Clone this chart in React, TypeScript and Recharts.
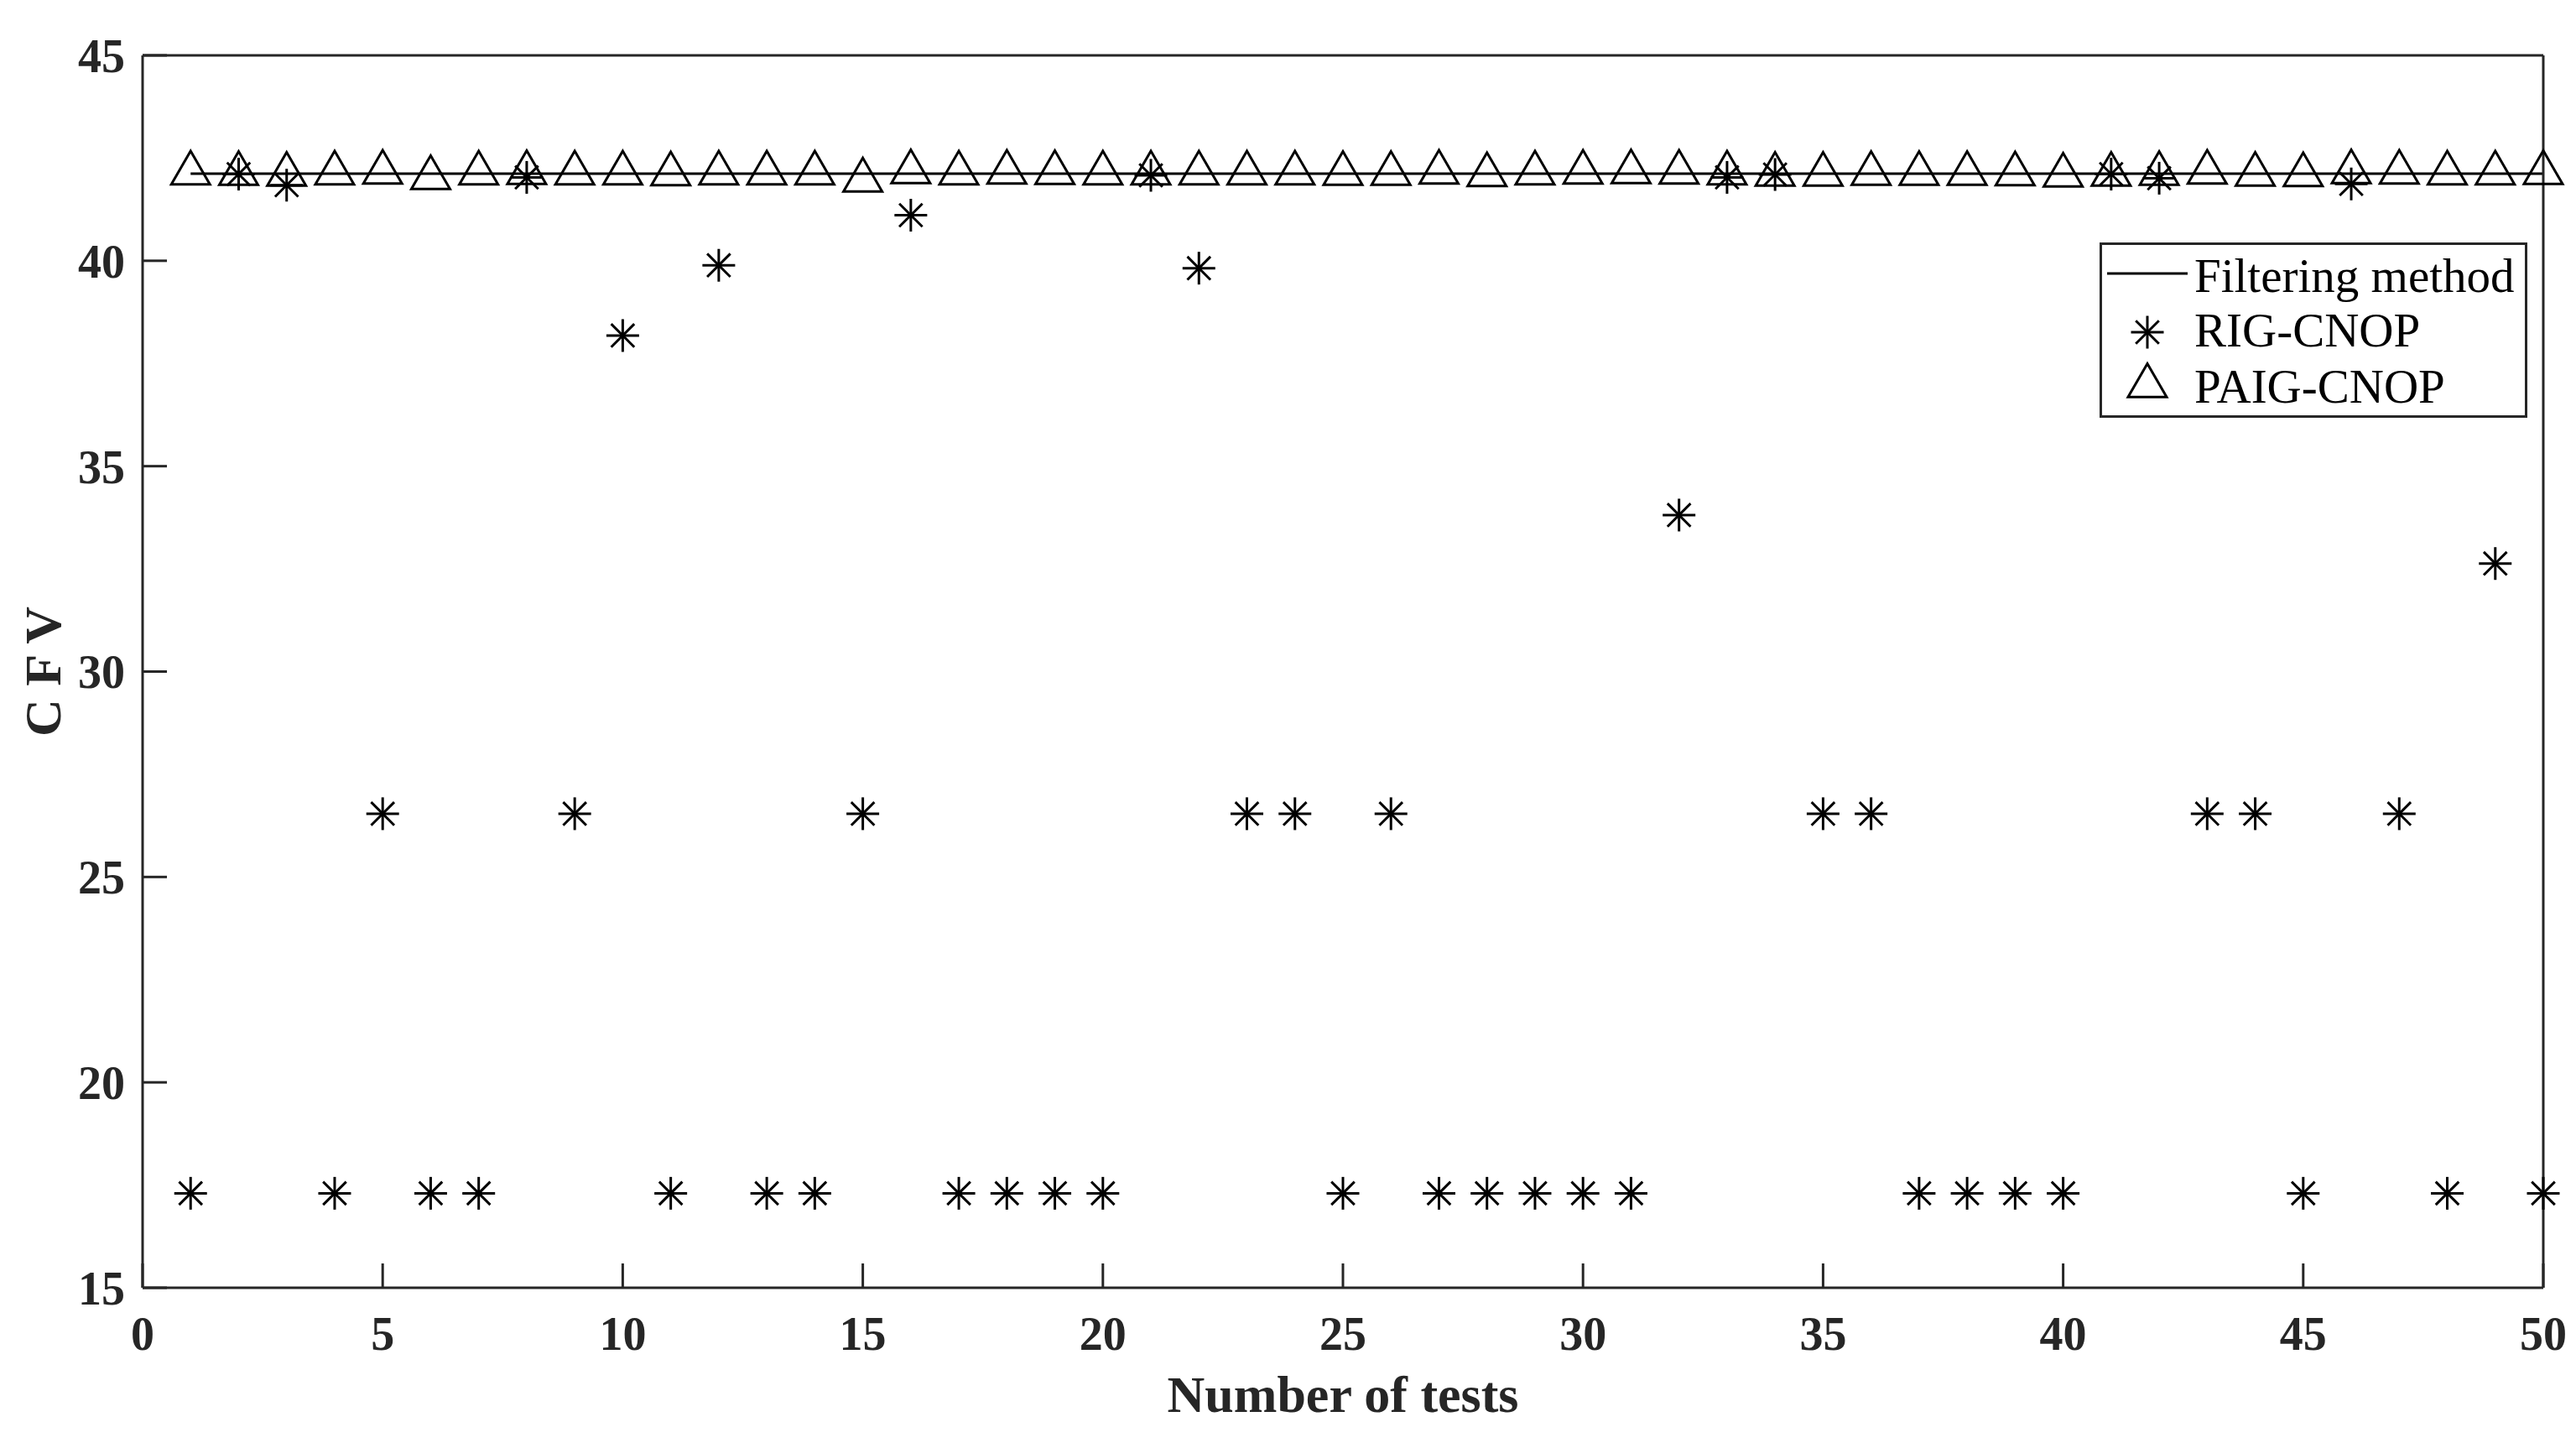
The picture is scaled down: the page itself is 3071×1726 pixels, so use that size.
import React from 'react';
import { ComposedChart, Line, Scatter, XAxis, YAxis, Legend } from 'recharts';

// test index (x axis)
const tests = [
  1, 2, 3, 4, 5, 6, 7, 8, 9, 10,
  11, 12, 13, 14, 15, 16, 17, 18, 19, 20,
  21, 22, 23, 24, 25, 26, 27, 28, 29, 30,
  31, 32, 33, 34, 35, 36, 37, 38, 39, 40,
  41, 42, 43, 44, 45, 46, 47, 48, 49, 50,
];

const filteringMethod = [
  42.12, 42.12, 42.12, 42.12, 42.12, 42.12, 42.12, 42.12, 42.12, 42.12,
  42.12, 42.12, 42.12, 42.12, 42.12, 42.12, 42.12, 42.12, 42.12, 42.12,
  42.12, 42.12, 42.12, 42.12, 42.12, 42.12, 42.12, 42.12, 42.12, 42.12,
  42.12, 42.12, 42.12, 42.12, 42.12, 42.12, 42.12, 42.12, 42.12, 42.12,
  42.12, 42.12, 42.12, 42.12, 42.12, 42.12, 42.12, 42.12, 42.12, 42.12,
];

const rigCnop = [
  17.3, 42.11, 41.84, 17.3, 26.54, 17.3, 17.3, 42.03, 26.54, 38.18,
  17.3, 39.89, 17.3, 17.3, 26.54, 41.11, 17.3, 17.3, 17.3, 17.3,
  42.08, 39.82, 26.54, 26.54, 17.3, 26.54, 17.3, 17.3, 17.3, 17.3,
  17.3, 33.81, 42.03, 42.1, 26.54, 26.54, 17.3, 17.3, 17.3, 17.3,
  42.11, 42.01, 26.54, 26.54, 17.3, 41.87, 26.54, 17.3, 32.63, 17.3,
];

const paigCnop = [
  42.13, 42.12, 42.1, 42.13, 42.15, 42.02, 42.13, 42.14, 42.13, 42.13,
  42.11, 42.13, 42.13, 42.13, 41.96, 42.16, 42.13, 42.15, 42.14, 42.13,
  42.13, 42.13, 42.13, 42.13, 42.12, 42.12, 42.15, 42.09, 42.13, 42.15,
  42.16, 42.15, 42.13, 42.1, 42.1, 42.12, 42.12, 42.12, 42.11, 42.08,
  42.1, 42.12, 42.15, 42.1, 42.09, 42.16, 42.15, 42.13, 42.13, 42.14,
];

const xTicks = [0, 5, 10, 15, 20, 25, 30, 35, 40, 45, 50];
const yTicks = [15, 20, 25, 30, 35, 40, 45];
const seriesNames = ['Filtering method', 'RIG-CNOP', 'PAIG-CNOP'];

const data = tests.map((t, i) => ({
  test: t,
  filtering: filteringMethod[i],
  rig: rigCnop[i],
  paig: paigCnop[i],
}));

const AXIS = '#262626';
const FONT = '"Liberation Serif", "Times New Roman", serif';
const tickStyle = { fill: AXIS, fontSize: 56, fontWeight: 'bold', fontFamily: FONT };

function asterisk(cx: number, cy: number, key?: string) {
  const r = 19.5;
  const d = r * Math.SQRT1_2;
  return (
    <g key={key} stroke="#000" strokeWidth={3}>
      <line x1={cx - r} y1={cy} x2={cx + r} y2={cy} />
      <line x1={cx} y1={cy - r} x2={cx} y2={cy + r} />
      <line x1={cx - d} y1={cy - d} x2={cx + d} y2={cy + d} />
      <line x1={cx - d} y1={cy + d} x2={cx + d} y2={cy - d} />
    </g>
  );
}

function triangle(cx: number, cy: number, key?: string) {
  const w = 46;
  const h = 39.8;
  return (
    <polygon
      key={key}
      points={`${cx},${cy - (2 * h) / 3} ${cx - w / 2},${cy + h / 3} ${cx + w / 2},${cy + h / 3}`}
      fill="none"
      stroke="#000"
      strokeWidth={3}
    />
  );
}

const AsteriskShape = (props: any) => {
  if (props.cx == null || props.cy == null) return <g />;
  return asterisk(props.cx, props.cy);
};

const TriangleShape = (props: any) => {
  if (props.cx == null || props.cy == null) return <g />;
  return triangle(props.cx, props.cy);
};

const LegendBox = (props: any) => {
  // keep the plotting order: line, RIG, PAIG
  const fromPayload: string[] =
    props.payload && props.payload.length ? props.payload.map((p: any) => p.value) : [];
  const names = seriesNames.filter((n) => fromPayload.length === 0 || fromPayload.includes(n));
  const rows = [
    { base: 59, mid: 37 },
    { base: 124, mid: 107 },
    { base: 191, mid: 171 },
  ];
  return (
    <div
      style={{
        width: 510,
        height: 209,
        border: `3px solid ${AXIS}`,
        boxSizing: 'border-box',
        background: '#fff',
      }}
    >
      <svg width={504} height={203} style={{ display: 'block' }}>
        <g transform="translate(-3,-3)">
          {names.map((name, i) => {
            const row = rows[i] ?? rows[rows.length - 1];
            let icon = null;
            if (name === 'Filtering method') {
              icon = <line x1={9} y1={row.mid} x2={105} y2={row.mid} stroke="#000" strokeWidth={3} />;
            } else if (name === 'RIG-CNOP') {
              icon = asterisk(57, row.mid);
            } else {
              icon = triangle(57, row.mid);
            }
            return (
              <g key={name}>
                {icon}
                <text x={113} y={row.base} fontSize={57} fontFamily={FONT} fill="#000">
                  {name}
                </text>
              </g>
            );
          })}
        </g>
      </svg>
    </div>
  );
};

const XTitle = (props: any) => {
  const vb = props.viewBox ?? { x: 170, y: 1535, width: 2862, height: 100 };
  return (
    <text
      x={vb.x + vb.width / 2}
      y={vb.y + 148}
      textAnchor="middle"
      fontSize={62}
      fontWeight="bold"
      fontFamily={FONT}
      fill={AXIS}
    >
      Number of tests
    </text>
  );
};

const YTitle = (props: any) => {
  const vb = props.viewBox ?? { x: 70, y: 66, width: 100, height: 1469 };
  const cx = vb.x + vb.width - 98;
  const cy = vb.y + vb.height / 2;
  return (
    <text
      x={cx}
      y={cy}
      transform={`rotate(-90, ${cx}, ${cy})`}
      textAnchor="middle"
      fontSize={62}
      fontWeight="bold"
      fontFamily={FONT}
      fill={AXIS}
    >
      C F V
    </text>
  );
};

export default function App() {
  return (
    <div style={{ position: 'absolute', left: 0, top: 0, width: 3071, height: 1726, background: '#fff', fontFamily: FONT }}>
      <ComposedChart
        width={3071}
        height={1726}
        data={data}
        margin={{ top: 56, right: 29, bottom: 91, left: 70 }}
      >
        <XAxis
          dataKey="test"
          type="number"
          domain={[0, 50]}
          ticks={xTicks}
          interval={0}
          height={100}
          axisLine={{ stroke: AXIS, strokeWidth: 3 }}
          tickLine={{ stroke: AXIS, strokeWidth: 3 }}
          tickSize={-29}
          tickMargin={63}
          tick={tickStyle}
          label={XTitle}
        />
        <XAxis
          xAxisId="top"
          orientation="top"
          type="number"
          domain={[0, 50]}
          ticks={xTicks}
          interval={0}
          height={10}
          axisLine={{ stroke: AXIS, strokeWidth: 3 }}
          tickLine={{ stroke: AXIS, strokeWidth: 3 }}
          tickSize={-29}
          tick={false}
        />
        <YAxis
          type="number"
          domain={[15, 45]}
          ticks={yTicks}
          interval={0}
          width={100}
          axisLine={{ stroke: AXIS, strokeWidth: 3 }}
          tickLine={{ stroke: AXIS, strokeWidth: 3 }}
          tickSize={-29}
          tickMargin={50}
          tick={tickStyle}
          label={YTitle}
        />
        <YAxis
          yAxisId="right"
          orientation="right"
          type="number"
          domain={[15, 45]}
          ticks={yTicks}
          interval={0}
          width={10}
          axisLine={{ stroke: AXIS, strokeWidth: 3 }}
          tickLine={{ stroke: AXIS, strokeWidth: 3 }}
          tickSize={-29}
          tick={false}
        />
        <Line
          dataKey="filtering"
          name={seriesNames[0]}
          stroke="#000"
          strokeWidth={3}
          dot={false}
          isAnimationActive={false}
        />
        <Scatter dataKey="rig" name={seriesNames[1]} shape={AsteriskShape} isAnimationActive={false} />
        <Scatter dataKey="paig" name={seriesNames[2]} shape={TriangleShape} isAnimationActive={false} />
        <Legend
          layout="horizontal"
          verticalAlign="middle"
          align="center"
          content={LegendBox}
          wrapperStyle={{ position: 'absolute', left: 2503, top: 289, width: 510, height: 209 }}
        />
      </ComposedChart>
    </div>
  );
}
